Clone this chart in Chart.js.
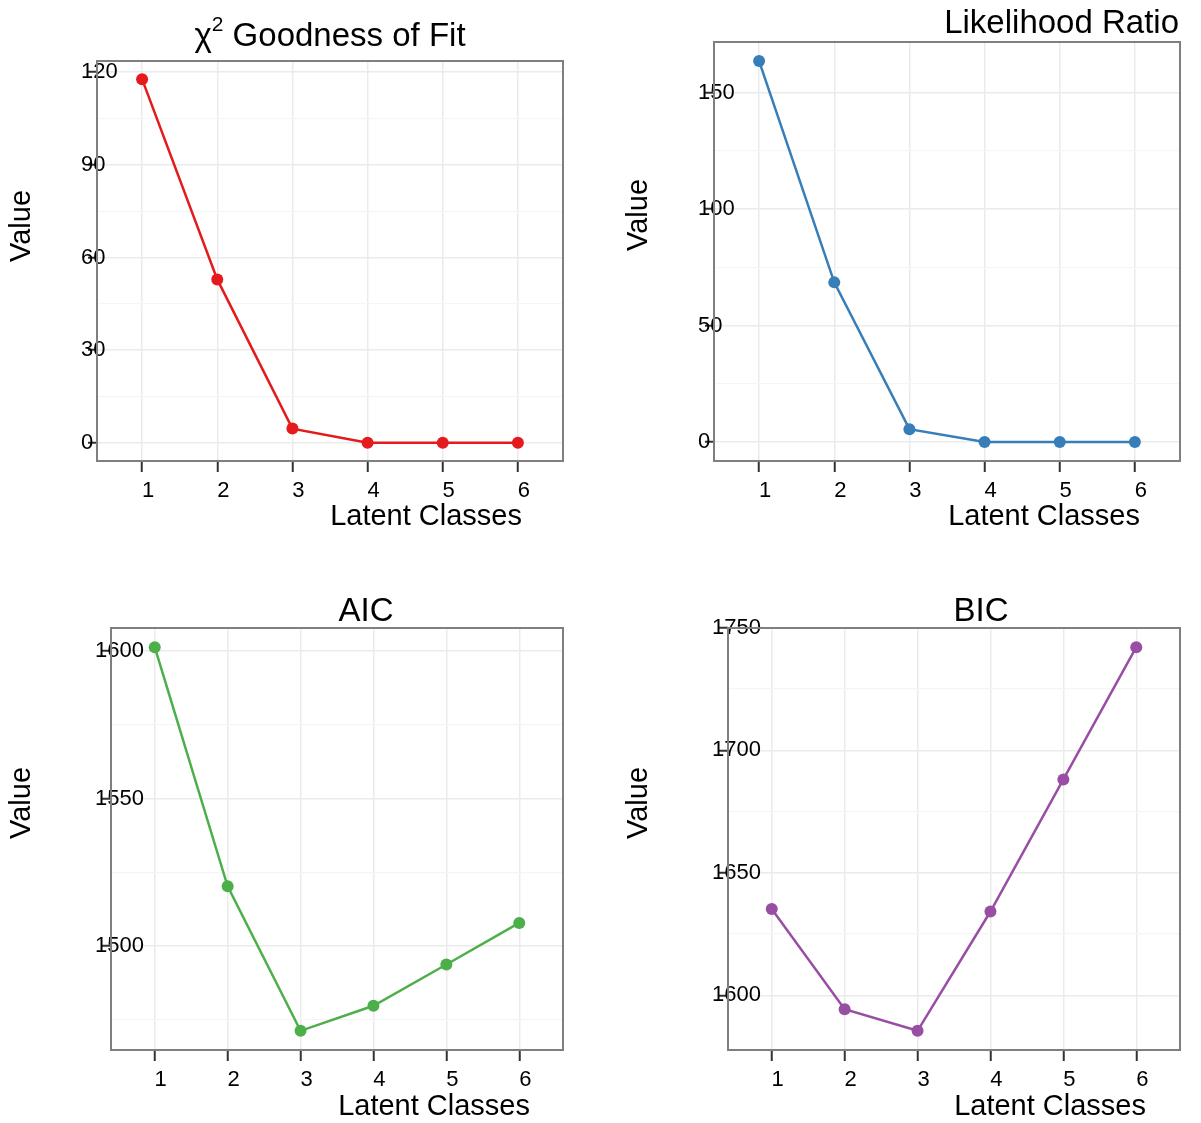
<!DOCTYPE html>
<html>
<head>
<meta charset="utf-8">
<script src="https://cdn.jsdelivr.net/npm/chart.js@4.4.1/dist/chart.umd.min.js"></script>
<style>
  html, body { margin: 0; padding: 0; background: #fff; }
  #page { position: relative; width: 1201px; height: 1123px; overflow: hidden; }
  .panel { position: absolute; }
</style>
</head>
<body>
<div id="page">
  <div class="panel" style="left:0;top:0"><canvas id="chi"></canvas></div>
  <div class="panel" style="left:600px;top:0"><canvas id="lr"></canvas></div>
  <div class="panel" style="left:0;top:560px"><canvas id="aic"></canvas></div>
  <div class="panel" style="left:600px;top:560px"><canvas id="bic"></canvas></div>
</div>
<script>
// values
const classes = [1, 2, 3, 4, 5, 6];
const chiSq = [117.7, 52.9, 4.6, 0, 0, 0];
const likRatio = [163.5, 68.5, 5.5, 0, 0, 0];
const aic = [1601.3, 1520.2, 1471.2, 1479.7, 1493.7, 1507.8];
const bic = [1635.2, 1594.3, 1585.5, 1634.2, 1688.1, 1742.1];

// major y tick labels
const chiTicks = [0, 30, 60, 90, 120];
const lrTicks = [0, 50, 100, 150];
const aicTicks = [1500, 1550, 1600];
const bicTicks = [1600, 1650, 1700, 1750];

const FONT = '"Liberation Sans", Arial, Helvetica, sans-serif';
Chart.defaults.font.family = FONT;
const Y_W = 16;   // labels start this far left of the panel and spill over it, like the original
const X_H = 60;

// region = canvas placement on the page, box = panel border (page coords)
const panels = [
  { id: 'chi', values: chiSq, majors: chiTicks, color: '#E41A1C', title: 'chi',
    region: [0, 0, 600, 560], box: [97, 61, 563, 461],
    titleAt: [330, 46, 'center'], valueAt: [22, 226], xTitleAt: [522, 525] },
  { id: 'lr', values: likRatio, majors: lrTicks, color: '#377EB8', title: 'Likelihood Ratio',
    region: [600, 0, 601, 560], box: [714, 42, 1180, 461],
    titleAt: [1179, 33, 'right'], valueAt: [639, 215], xTitleAt: [1140, 525] },
  { id: 'aic', values: aic, majors: aicTicks, color: '#4DAF4A', title: 'AIC',
    region: [0, 560, 600, 563], box: [111, 628, 563, 1050],
    titleAt: [366, 621, 'center'], valueAt: [22, 803], xTitleAt: [530, 1115] },
  { id: 'bic', values: bic, majors: bicTicks, color: '#984EA3', title: 'BIC',
    region: [600, 560, 601, 563], box: [728, 628, 1180, 1050],
    titleAt: [981, 621, 'center'], valueAt: [639, 803], xTitleAt: [1146, 1115] }
];

function textPlugin(p) {
  const [rx, ry] = p.region;
  return {
    id: 'panelText',
    afterDraw(chart) {
      const ctx = chart.ctx;
      const a = chart.chartArea;
      ctx.save();
      // panel border
      ctx.strokeStyle = '#7f7f7f';
      ctx.lineWidth = 2;
      ctx.strokeRect(a.left, a.top, a.right - a.left, a.bottom - a.top);

      ctx.fillStyle = '#000';
      ctx.textBaseline = 'alphabetic';
      // title
      const [tx, ty, talign] = p.titleAt;
      if (p.title === 'chi') {
        ctx.font = '33px ' + FONT;
        const w1 = ctx.measureText('\u03C7').width;
        const w3 = ctx.measureText(' Goodness of Fit').width;
        ctx.font = '21px ' + FONT;
        const w2 = ctx.measureText('2').width;
        let x = tx - rx - (w1 + w2 + w3) / 2;
        ctx.textAlign = 'left';
        ctx.font = '33px ' + FONT;
        ctx.fillText('\u03C7', x, ty - ry);
        ctx.font = '21px ' + FONT;
        ctx.fillText('2', x + w1, ty - ry - 15);
        ctx.font = '33px ' + FONT;
        ctx.fillText(' Goodness of Fit', x + w1 + w2, ty - ry);
      } else {
        ctx.font = '33px ' + FONT;
        ctx.textAlign = talign;
        ctx.fillText(p.title, tx - rx, ty - ry);
      }
      // x axis title
      ctx.font = '29px ' + FONT;
      ctx.textAlign = 'right';
      ctx.fillText('Latent Classes', p.xTitleAt[0] - rx, p.xTitleAt[1] - ry);
      // y axis title
      ctx.translate(p.valueAt[0] - rx, p.valueAt[1] - ry);
      ctx.rotate(-Math.PI / 2);
      ctx.textAlign = 'center';
      ctx.textBaseline = 'middle';
      ctx.fillText('Value', 0, 0);
      ctx.restore();
    }
  };
}

function makeChart(p) {
  const [rx, ry, rw, rh] = p.region;
  const [bl, bt, br, bb] = p.box;
  const lo = Math.min(...p.values), hi = Math.max(...p.values);
  const ymin = lo - (hi - lo) * 0.05;
  const ymax = hi + (hi - lo) * 0.05;
  const step = p.majors[1] - p.majors[0];
  const minors = [];
  for (let v = p.majors[0] - step / 2; v <= ymax; v += step) {
    if (v >= ymin) minors.push(v);
  }
  const isMajor = v => p.majors.includes(v);

  const canvas = document.getElementById(p.id);
  canvas.width = rw;
  canvas.height = rh;

  new Chart(canvas, {
    type: 'line',
    data: {
      datasets: [{
        data: classes.map((c, i) => ({ x: c, y: p.values[i] })),
        borderColor: p.color,
        backgroundColor: p.color,
        borderWidth: 2.5,
        pointRadius: 6,
        pointHoverRadius: 6,
        pointBorderWidth: 0,
        tension: 0
      }]
    },
    options: {
      responsive: false,
      animation: false,
      events: [],
      layout: {
        padding: { left: bl - rx - Y_W, top: bt - ry, right: rx + rw - br, bottom: ry + rh - bb - X_H }
      },
      plugins: {
        legend: { display: false },
        tooltip: { enabled: false },
        title: { display: false }
      },
      scales: {
        x: {
          type: 'linear',
          min: 0.4,
          max: 6.6,
          afterBuildTicks: s => { s.ticks = classes.map(v => ({ value: v })); },
          afterFit: s => { s.height = X_H; },
          border: { display: false },
          grid: { color: '#ebebeb', lineWidth: 1.5, tickColor: '#333', tickLength: 11, tickWidth: 2 },
          ticks: {
            font: { size: 22 }, color: '#000', padding: 6, labelOffset: 6,
            maxRotation: 0, autoSkip: false,
            callback: v => String(v)
          }
        },
        y: {
          type: 'linear',
          min: ymin,
          max: ymax,
          afterBuildTicks: s => {
            s.ticks = p.majors.concat(minors).sort((a, b) => a - b).map(v => ({ value: v }));
          },
          afterFit: s => { s.width = Y_W; },
          border: { display: false },
          grid: {
            color: c => isMajor(c.tick.value) ? '#ebebeb' : '#f5f5f5',
            lineWidth: c => isMajor(c.tick.value) ? 1.5 : 1.2,
            tickColor: c => isMajor(c.tick.value) ? '#333' : 'rgba(0,0,0,0)',
            tickLength: 9,
            tickWidth: 2
          },
          ticks: {
            // mirrored so the labels are not clipped to the narrow axis strip
            mirror: true, padding: -Y_W, crossAlign: 'near',
            font: { size: 22 }, color: '#000',
            autoSkip: false,
            callback: v => isMajor(v) ? String(v) : ''
          }
        }
      }
    },
    plugins: [textPlugin(p)]
  });
}

panels.forEach(makeChart);
</script>
</body>
</html>
